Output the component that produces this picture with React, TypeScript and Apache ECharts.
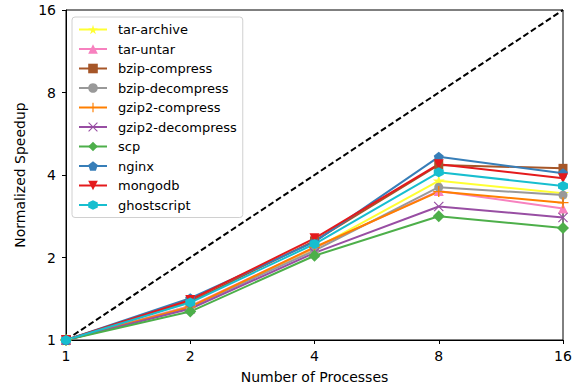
import React, { useEffect, useRef } from "react";
import * as echarts from "echarts";

const processes = [1, 2, 4, 8, 16];
const seriesNames = [
  "tar-archive",
  "tar-untar",
  "bzip-compress",
  "bzip-decompress",
  "gzip2-compress",
  "gzip2-decompress",
  "scp",
  "nginx",
  "mongodb",
  "ghostscript",
];
const tarArchive = [1, 1.33, 2.15, 3.81, 3.43];
const tarUntar = [1, 1.33, 2.17, 3.5, 3.02];
const bzipCompress = [1, 1.38, 2.3, 4.35, 4.23];
const bzipDecompress = [1, 1.32, 2.12, 3.61, 3.38];
const gzip2Compress = [1, 1.32, 2.18, 3.48, 3.17];
const gzip2Decompress = [1, 1.3, 2.08, 3.07, 2.8];
const scp = [1, 1.27, 2.03, 2.83, 2.56];
const nginx = [1, 1.42, 2.28, 4.66, 4.06];
const mongodb = [1, 1.4, 2.35, 4.38, 3.89];
const ghostscript = [1, 1.37, 2.24, 4.09, 3.65];
const idealX = [1, 16];
const yTicks = [1, 2, 4, 8, 16];

const allValues = [
  tarArchive, tarUntar, bzipCompress, bzipDecompress, gzip2Compress,
  gzip2Decompress, scp, nginx, mongodb, ghostscript,
];
const colors = [
  "#ffff33", "#f781bf", "#a65628", "#999999", "#ff7f00",
  "#984ea3", "#4daf4a", "#377eb8", "#e41a1c", "#17becf",
];
const STAR = "path://M50,0 L61,35 L98,35 L68,57 L79,91 L50,70 L21,91 L32,57 L2,35 L39,35 Z";
const PENT = "path://M50,0 L98,35 L79,91 L21,91 L2,35 Z";
const HEX = "path://M50,0 L93,25 L93,75 L50,100 L7,75 L7,25 Z";
const PLUS = "path://M44,0 H56 V44 H100 V56 H56 V100 H44 V56 H0 V44 H44 Z";
const XMARK = "path://M8,0 L50,42 L92,0 L100,8 L58,50 L100,92 L92,100 L50,58 L8,100 L0,92 L42,50 L0,8 Z";
const TRIDOWN = "path://M0,0 L100,0 L50,100 Z";
const symbols = [STAR, "triangle", "rect", "circle", PLUS, XMARK, "diamond", PENT, TRIDOWN, HEX];
const sizes = [12, 10, 9, 9, 11, 10, 12, 10, 10, 10];

export default function App() {
  const ref = useRef<HTMLDivElement>(null);
  useEffect(() => {
    if (!ref.current) return;
    const chart = echarts.init(ref.current, undefined, { renderer: "svg" });
    const font = "DejaVu Sans";
    const series: any[] = [
      {
        name: "ideal",
        type: "line",
        data: idealX.map((x) => [x, x]),
        showSymbol: false,
        symbol: "none",
        lineStyle: { color: "#000", width: 2, type: [6, 3] },
        z: 1,
      },
    ];
    seriesNames.forEach((n, i) => {
      series.push({
        name: n,
        type: "line",
        data: processes.map((p, j) => [p, allValues[i][j]]),
        symbol: symbols[i],
        symbolSize: sizes[i],
        color: colors[i],
        itemStyle: { color: colors[i] },
        lineStyle: { color: colors[i], width: 2 },
        z: 2,
      });
    });
    chart.setOption({
      animation: false,
      textStyle: { fontFamily: font },
      grid: {
        left: 66, right: 13, top: 10, bottom: 49,
        show: true, borderColor: "#000", borderWidth: 1,
      },
      legend: {
        data: seriesNames,
        orient: "vertical",
        left: 72,
        top: 17,
        padding: [6, 6, 6, 6],
        itemWidth: 28,
        itemHeight: 12,
        itemGap: 6.5,
        borderColor: "#d0d0d0",
        borderWidth: 1,
        borderRadius: 3,
        backgroundColor: "rgba(255,255,255,0.85)",
        textStyle: { fontFamily: font, fontSize: 13, lineHeight: 13, color: "#000", padding: [0, 0, 0, 6] },
      },
      xAxis: {
        type: "log",
        logBase: 2,
        min: 1,
        max: 16,
        name: "Number of Processes",
        nameLocation: "middle",
        nameGap: 30,
        nameTextStyle: { fontFamily: font, fontSize: 14, color: "#000" },
        axisLine: { lineStyle: { color: "#000" } },
        axisTick: { show: true, length: 4, lineStyle: { color: "#000" } },
        axisLabel: { fontFamily: font, fontSize: 14, color: "#000", margin: 9, formatter: (v: number) => String(Math.round(v)) },
        splitLine: { show: false },
      },
      yAxis: {
        type: "log",
        logBase: 2,
        min: yTicks[0],
        max: yTicks[yTicks.length - 1],
        name: "Normalized Speedup",
        nameLocation: "middle",
        nameGap: 37,
        nameTextStyle: { fontFamily: font, fontSize: 14, color: "#000" },
        axisLine: { lineStyle: { color: "#000" } },
        axisTick: { show: true, length: 4, lineStyle: { color: "#000" } },
        axisLabel: { fontFamily: font, fontSize: 14, color: "#000", margin: 10, formatter: (v: number) => String(Math.round(v)) },
        splitLine: { show: false },
      },
      series,
    });
    return () => chart.dispose();
  }, []);
  return <div ref={ref} style={{ width: 576, height: 389, position: "absolute", left: 0, top: 0 }} />;
}
